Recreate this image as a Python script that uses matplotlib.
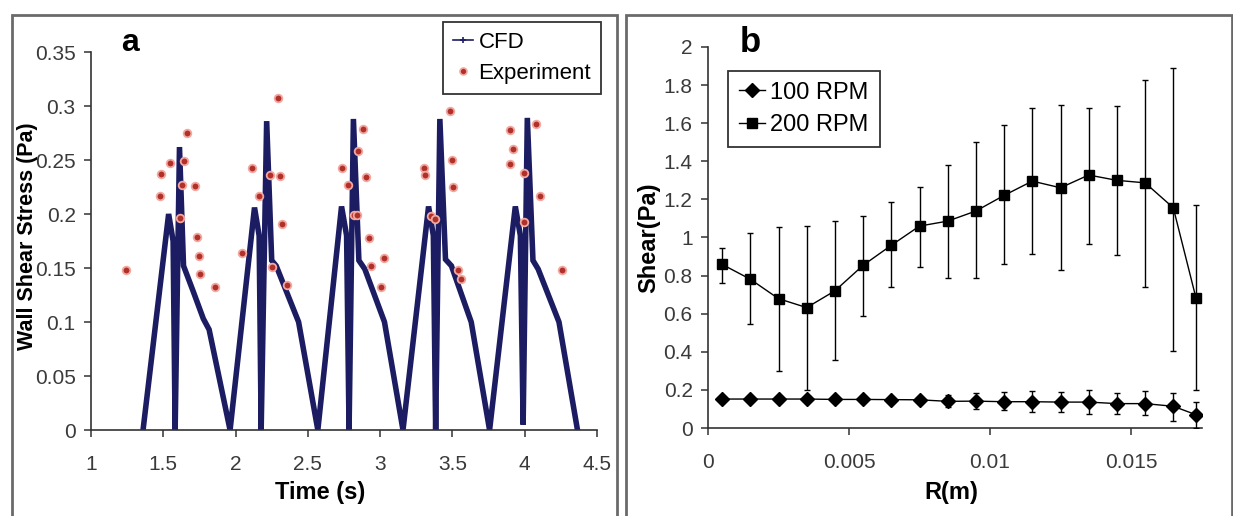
import matplotlib

matplotlib.use("Agg")
import matplotlib.pyplot as plt
import numpy as np
from matplotlib.patches import Rectangle

plt.rcParams["font.family"] = ["Liberation Sans Narrow", "Liberation Sans", "DejaVu Sans"]

# panel a: CFD wall shear stress (vertices of the trace) and experiment points
cfd_time = [1.360, 1.537, 1.568, 1.582, 1.612, 1.640, 1.708, 1.777, 1.817, 1.962,
            2.131, 2.163, 2.177, 2.215, 2.250, 2.281, 2.436, 2.569,
            2.733, 2.768, 2.785, 2.815, 2.853, 2.894, 3.030, 3.158,
            3.335, 3.368, 3.384, 3.413, 3.452, 3.493, 3.630, 3.757,
            3.935, 3.970, 3.989, 4.018, 4.057, 4.093, 4.237, 4.365]
cfd_shear = [0.0, 0.200, 0.175, 0.0, 0.262, 0.152, 0.128, 0.103, 0.093, 0.0,
             0.206, 0.180, 0.0, 0.286, 0.157, 0.152, 0.100, 0.0,
             0.207, 0.180, 0.0, 0.288, 0.157, 0.149, 0.100, 0.0,
             0.207, 0.180, 0.0, 0.288, 0.158, 0.152, 0.100, 0.0,
             0.207, 0.180, 0.005, 0.289, 0.157, 0.149, 0.100, 0.0]

exp_time = [1.24, 1.477, 1.485, 1.545, 1.662, 1.640, 1.627, 1.613, 1.722, 1.736, 1.744, 1.757, 1.861,
            2.046, 2.117, 2.163, 2.237, 2.253, 2.294, 2.308, 2.322, 2.357,
            2.733, 2.779, 2.820, 2.840, 2.845, 2.880, 2.902, 2.926, 2.935, 3.030, 3.006,
            3.300, 3.310, 3.350, 3.379, 3.480, 3.500, 3.507, 3.540, 3.556,
            3.900, 3.916, 3.896, 3.997, 3.997, 4.079, 4.106, 4.256]
exp_shear = [0.148, 0.217, 0.237, 0.247, 0.275, 0.249, 0.227, 0.196, 0.226, 0.179, 0.161, 0.144, 0.132,
             0.164, 0.243, 0.217, 0.236, 0.151, 0.307, 0.235, 0.191, 0.134,
             0.243, 0.227, 0.199, 0.199, 0.258, 0.279, 0.234, 0.178, 0.152, 0.159, 0.132,
             0.243, 0.236, 0.198, 0.195, 0.295, 0.250, 0.225, 0.148, 0.140,
             0.278, 0.260, 0.246, 0.238, 0.193, 0.283, 0.217, 0.148]

# panel b: shear vs radius with error bar ends
radius = [0.0005, 0.0015, 0.0025, 0.0035, 0.0045, 0.0055, 0.0065, 0.0075, 0.0085,
          0.0095, 0.0105, 0.0115, 0.0125, 0.0135, 0.0145, 0.0155, 0.0165, 0.0173]
rpm100 = [0.152, 0.152, 0.152, 0.152, 0.150, 0.150, 0.149, 0.148, 0.140,
          0.141, 0.138, 0.138, 0.136, 0.136, 0.128, 0.128, 0.114, 0.070]
rpm100_hi = [0.160, 0.160, 0.160, 0.160, 0.158, 0.158, 0.158, 0.165, 0.172,
             0.184, 0.190, 0.193, 0.190, 0.200, 0.184, 0.193, 0.184, 0.137]
rpm100_lo = [0.145, 0.145, 0.145, 0.145, 0.140, 0.140, 0.140, 0.130, 0.109,
             0.102, 0.092, 0.085, 0.085, 0.073, 0.072, 0.069, 0.039, 0.0]
rpm200 = [0.859, 0.781, 0.679, 0.632, 0.720, 0.854, 0.959, 1.060, 1.086,
          1.139, 1.221, 1.296, 1.261, 1.328, 1.300, 1.287, 1.156, 0.685]
rpm200_hi = [0.947, 1.025, 1.055, 1.060, 1.086, 1.113, 1.186, 1.266, 1.378,
             1.502, 1.593, 1.680, 1.694, 1.680, 1.689, 1.825, 1.890, 1.168]
rpm200_lo = [0.763, 0.545, 0.297, 0.200, 0.358, 0.589, 0.742, 0.847, 0.790,
             0.790, 0.859, 0.912, 0.830, 0.964, 0.907, 0.742, 0.405, 0.199]

W, H = 1233, 516
NAVY = "#1c1c62"
RED = "#b0302a"
TICK_GRAY = "#3a3a3a"


def fx(px):
    return px / W


def fy(py):
    return 1 - py / H


def style_axes(ax):
    for side in ("top", "right"):
        ax.spines[side].set_visible(False)
    for side in ("left", "bottom"):
        ax.spines[side].set_color("#333333")
        ax.spines[side].set_linewidth(1.2)
    ax.tick_params(direction="out", length=5, width=1.1, color="#333333",
                   labelsize=15, labelcolor=TICK_GRAY, pad=6)
    ax.tick_params(axis="x", pad=13)


def err(vals, lo, hi):
    v = np.asarray(vals)
    return [v - np.asarray(lo), np.asarray(hi) - v]


def boxed_legend(fig, handles, labels, loc, anchor, fontsize, handlelength):
    leg = fig.legend(handles, labels, loc=loc, bbox_to_anchor=anchor, bbox_transform=fig.transFigure,
                     fontsize=fontsize, handlelength=handlelength, handletextpad=0.25, borderpad=0.45,
                     labelspacing=0.45, borderaxespad=0, fancybox=False, framealpha=1)
    leg.get_frame().set_edgecolor("#333333")
    leg.get_frame().set_linewidth(1.3)
    return leg


def main():
    fig = plt.figure(figsize=(W / 100, H / 100), dpi=100)

    # panel frames
    fig.patches.append(Rectangle((fx(12), -0.1), fx(617 - 12), fy(15) + 0.1, transform=fig.transFigure,
                                 fill=False, edgecolor="#6a6a6a", linewidth=2))
    fig.patches.append(Rectangle((fx(626), -0.1), fx(1232 - 626), fy(15) + 0.1, transform=fig.transFigure,
                                 fill=False, edgecolor="#6a6a6a", linewidth=2))

    # ---- panel a
    ax = fig.add_axes([fx(91), fy(430), fx(597 - 91), fy(52) - fy(430)])
    ax.plot(cfd_time, cfd_shear, color=NAVY, lw=4, solid_joinstyle="miter", zorder=2)
    ax.plot(exp_time, exp_shear, ls="none", marker="o", ms=5.5, mfc=RED, mec="#f2a8a0", mew=1.3, zorder=3)
    ax.set_xlim(1, 4.5)
    ax.set_ylim(0, 0.35)
    ax.set_xticks([1, 1.5, 2, 2.5, 3, 3.5, 4, 4.5])
    ax.set_xticklabels(["1", "1.5", "2", "2.5", "3", "3.5", "4", "4.5"])
    ax.set_yticks([0, 0.05, 0.1, 0.15, 0.2, 0.25, 0.3, 0.35])
    ax.set_yticklabels(["0", "0.05", "0.1", "0.15", "0.2", "0.25", "0.3", "0.35"])
    style_axes(ax)

    h_cfd, = ax.plot([], [], color=NAVY, lw=1.2, marker="+", ms=5, mew=1.2)
    h_exp, = ax.plot([], [], ls="none", marker="o", ms=5, mfc=RED, mec="#f2a8a0", mew=1.2)
    boxed_legend(fig, [h_cfd, h_exp], ["CFD", "Experiment"], "upper right", (fx(601), fy(22)), 16, 0.9)

    fig.text(fx(130), fy(43), "a", fontsize=23, fontweight="bold", family="Liberation Sans",
             ha="center", va="center")
    fig.text(fx(28), fy(236), "Wall Shear Stress (Pa)", rotation=90, fontsize=15.5, fontweight="bold",
             family="Liberation Sans", ha="center", va="center")
    fig.text(fx(320), fy(493), "Time (s)", fontsize=17, fontweight="bold", ha="center", va="center")

    # ---- panel b
    bx = fig.add_axes([fx(708), fy(428), fx(1201.5 - 708), fy(47) - fy(428)])
    bx.errorbar(radius, rpm100, yerr=err(rpm100, rpm100_lo, rpm100_hi), color="black", lw=1,
                marker="D", ms=7, elinewidth=1, capsize=2.5, capthick=1, zorder=3)
    bx.errorbar(radius, rpm200, yerr=err(rpm200, rpm200_lo, rpm200_hi), color="black", lw=1,
                marker="s", ms=7, elinewidth=1, capsize=2.5, capthick=1, zorder=3)
    bx.set_xlim(0, 0.0175)
    bx.set_ylim(0, 2)
    bx.set_xticks([0, 0.005, 0.01, 0.015])
    bx.set_xticklabels(["0", "0.005", "0.01", "0.015"])
    bx.set_yticks([0, 0.2, 0.4, 0.6, 0.8, 1.0, 1.2, 1.4, 1.6, 1.8, 2.0])
    bx.set_yticklabels(["0", "0.2", "0.4", "0.6", "0.8", "1", "1.2", "1.4", "1.6", "1.8", "2"])
    style_axes(bx)

    h100, = bx.plot([], [], color="black", lw=1, marker="D", ms=7)
    h200, = bx.plot([], [], color="black", lw=1, marker="s", ms=7)
    boxed_legend(fig, [h100, h200], ["100 RPM", "200 RPM"], "upper left", (fx(728), fy(71)), 17, 1.1)

    fig.text(fx(750), fy(42), "b", fontsize=25, fontweight="bold", family="Liberation Sans",
             ha="center", va="center")
    fig.text(fx(649), fy(238), "Shear(Pa)", rotation=90, fontsize=17, fontweight="bold",
             family="Liberation Sans", ha="center", va="center")
    fig.text(fx(951), fy(493), "R(m)", fontsize=17, fontweight="bold", ha="center", va="center")

    fig.savefig("out.png", dpi=100, facecolor="white")
    plt.close(fig)


if __name__ == "__main__":
    main()
